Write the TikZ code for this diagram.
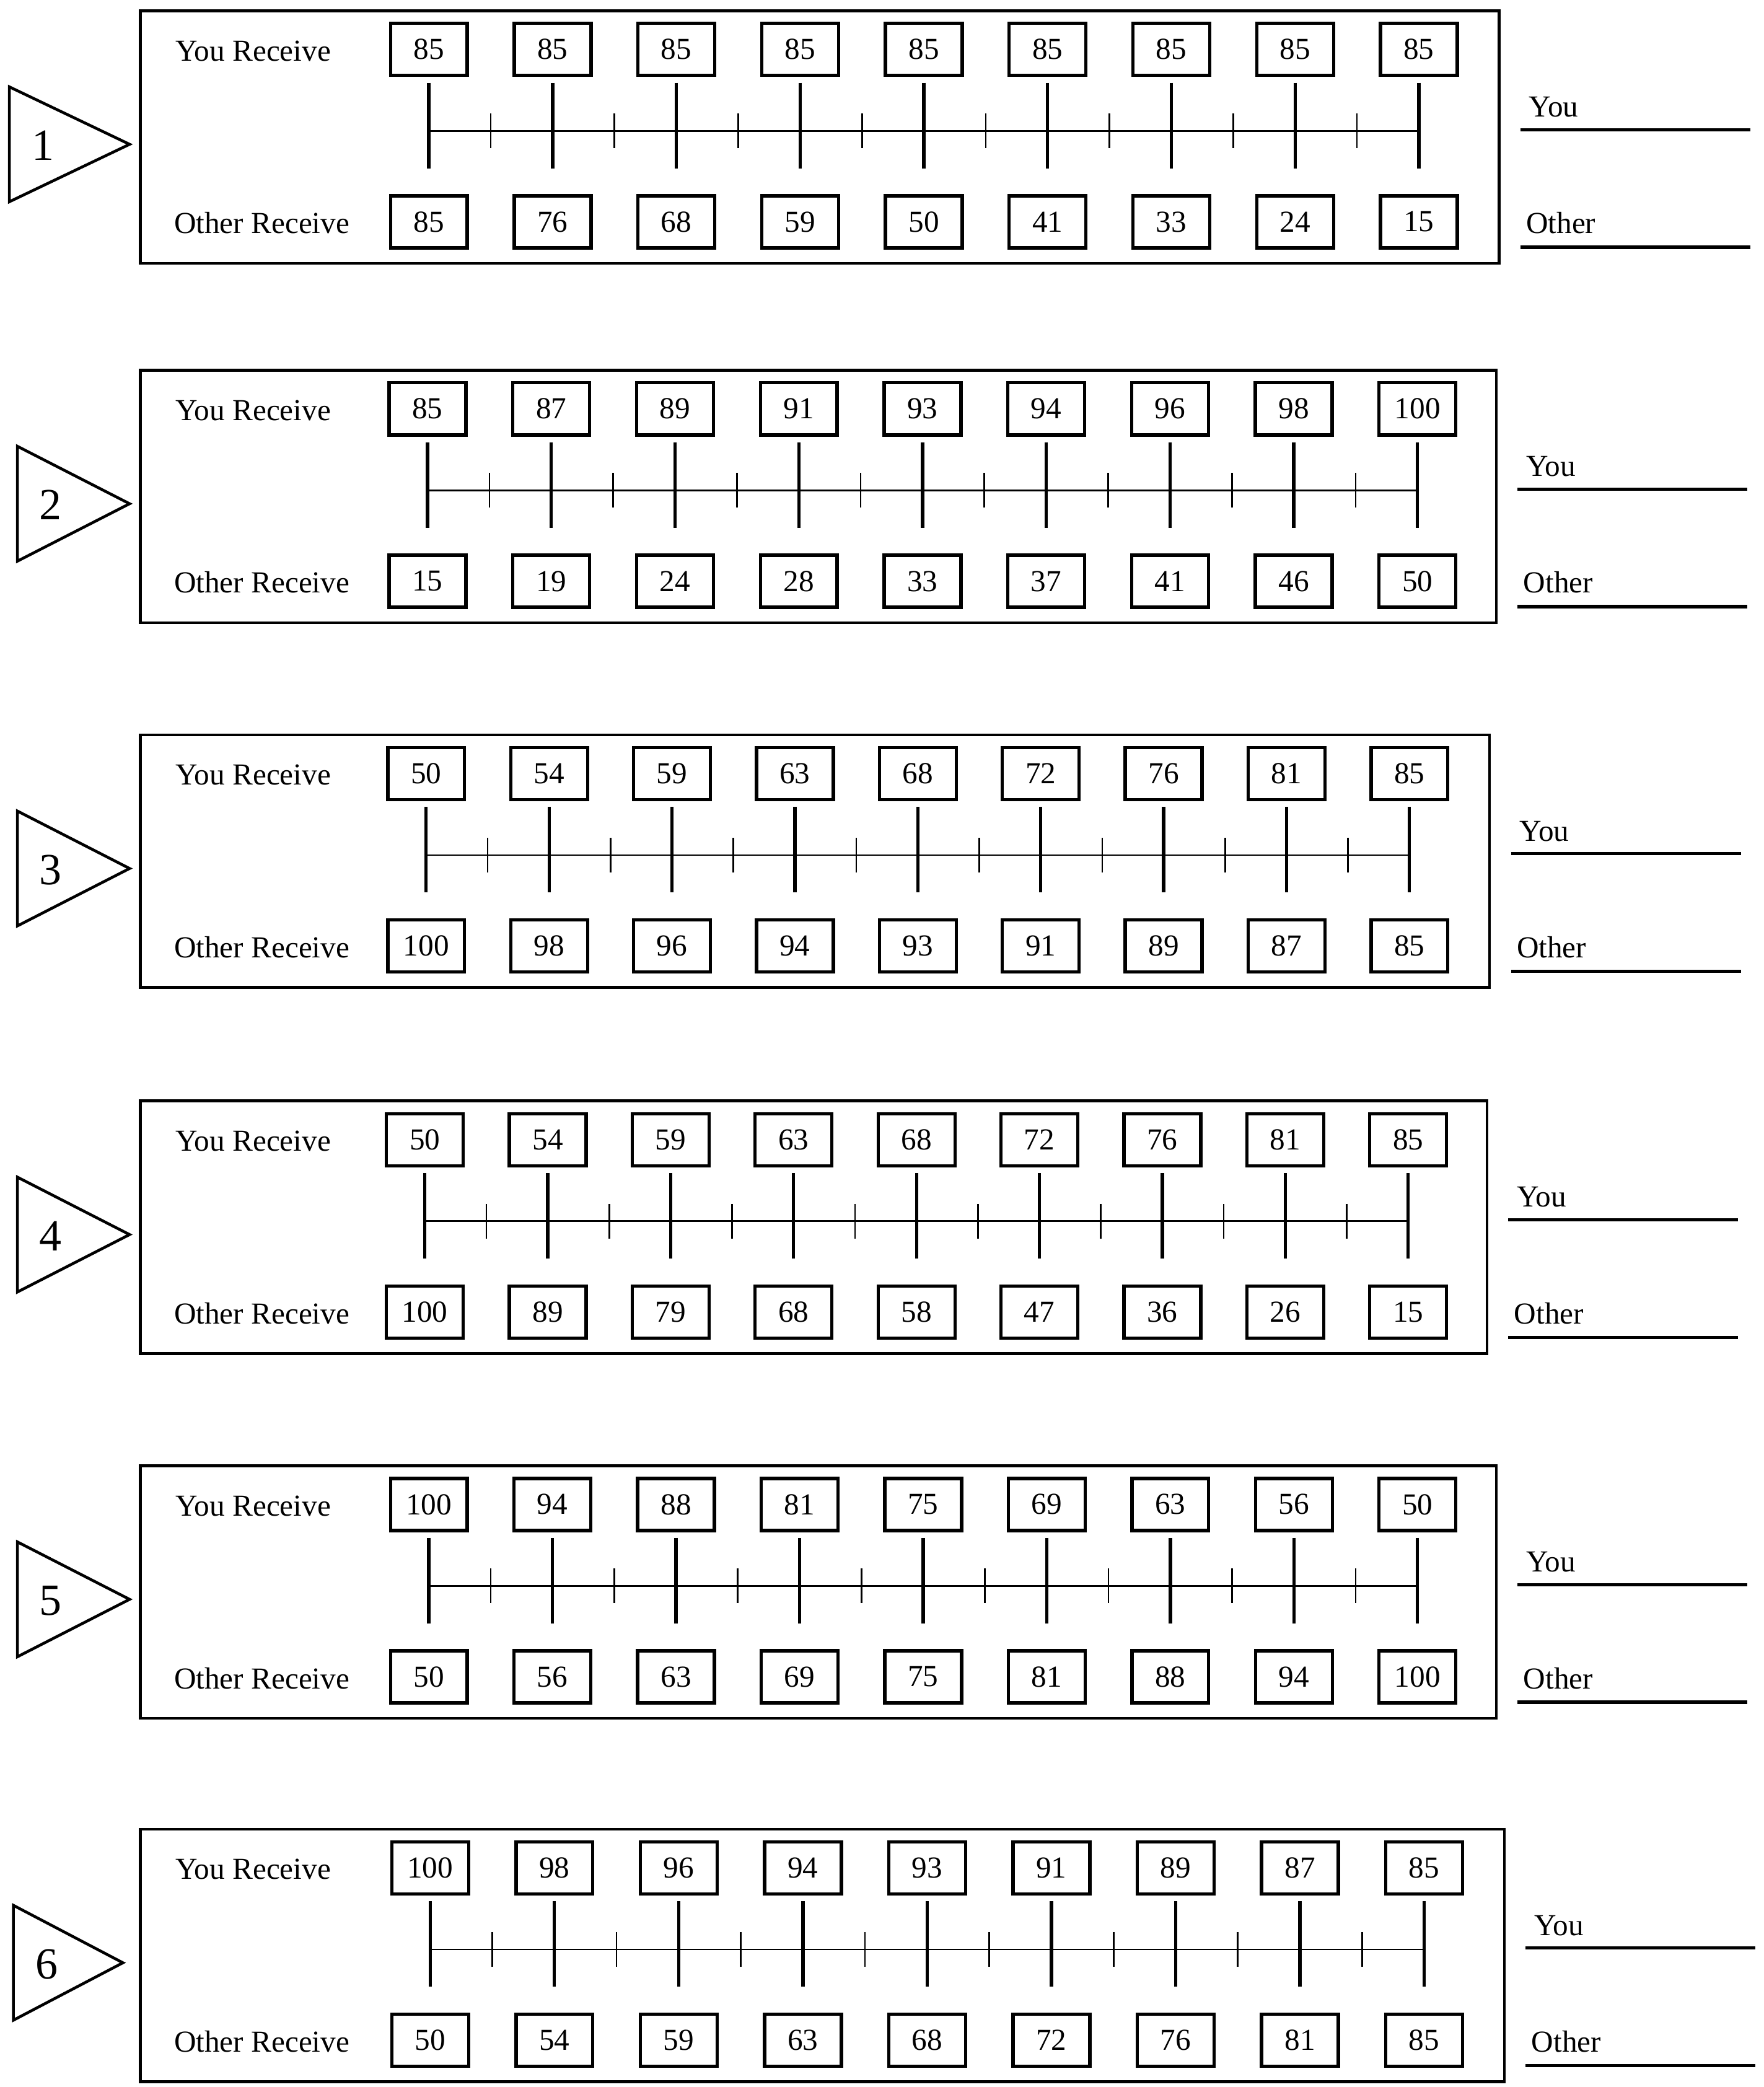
\documentclass[tikz,border=0pt]{standalone}
\usepackage{fontspec}
\setmainfont{Liberation Serif}
\begin{document}
\begin{tikzpicture}
	[x=0.02cm,y=-0.02cm,
	 panel/.style={draw,line width=1.2pt},
	 valbox/.style={draw,line width=1.4pt,minimum width=1.15cm,minimum height=0.78cm,inner sep=0pt,font=\fontsize{13}{13}\selectfont},
	 lab/.style={anchor=west,inner sep=0pt,font=\fontsize{13}{13}\selectfont},
	 major/.style={line width=1.4pt},
	 minor/.style={line width=0.7pt},
	 blank/.style={line width=1.4pt}];
\useasboundingbox (0,0) rectangle (1320,1562);
\foreach \r/\T/\R/\xa/\xb/\tl/\ta/\ylist/\olist in {
 1/8/1122/321/1062/7/97/{85,85,85,85,85,85,85,85,85}/{85,76,68,59,50,41,33,24,15},
 2/277/1120/320/1061/13/97/{85,87,89,91,93,94,96,98,100}/{15,19,24,28,33,37,41,46,50},
 3/550/1115/319/1055/13/97/{50,54,59,63,68,72,76,81,85}/{100,98,96,94,93,91,89,87,85},
 4/824/1113/318/1054/13/97/{50,54,59,63,68,72,76,81,85}/{100,89,79,68,58,47,36,26,15},
 5/1097/1120/321/1061/13/97/{100,94,88,81,75,69,63,56,50}/{50,56,63,69,75,81,88,94,100},
 6/1369/1126/322/1066/10/92/{100,98,96,94,93,91,89,87,85}/{50,54,59,63,68,72,76,81,85}}{
  % panel and left marker
  \draw[panel] (105,\T) rectangle (\R,\T+189);
  \draw[line width=1.2pt] (\tl,\T+57) -- (\ta,\T+100) -- (\tl,\T+143) -- cycle;
  \node[font=\fontsize{19}{19}\selectfont] (num-\r) at (\tl+25,\T+101) {\r};
  \node[lab] (yr-\r) at (131,\T+30) {You Receive};
  \node[lab] (or-\r) at (130,\T+159) {Other Receive};
  % scale
  \pgfmathsetmacro{\st}{(\xb-\xa)/8}
  \draw[minor] (\xa,\T+90) -- (\xb,\T+90);
  \foreach \v [count=\i] in \ylist {
    \node[valbox] (you-\r-\i) at ({\xa+(\i-1)*\st},\T+29) {\v};
    \draw[major] ({\xa+(\i-1)*\st},\T+54) -- ({\xa+(\i-1)*\st},\T+118);
  }
  \foreach \v [count=\i] in \olist {
    \node[valbox] (oth-\r-\i) at ({\xa+(\i-1)*\st},\T+158) {\v};
  }
  \foreach \i in {1,...,8} {
    \draw[minor] ({\xa+(\i-0.5)*\st},\T+77) -- ({\xa+(\i-0.5)*\st},\T+103);
  }
  % answer blanks
  \node[lab] (you-lab-\r) at (\R+22,\T+72) {You};
  \node[lab] (oth-lab-\r) at (\R+20,\T+159) {Other};
  \draw[blank] (\R+16,\T+89) -- (\R+188,\T+89);
  \draw[blank] (\R+16,\T+177) -- (\R+188,\T+177);
}
\end{tikzpicture}
\end{document}
